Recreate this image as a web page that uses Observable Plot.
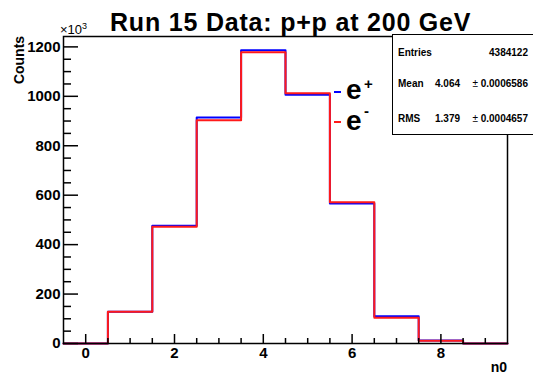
<!DOCTYPE html>
<html><head><meta charset="utf-8">
<script src="https://cdn.jsdelivr.net/npm/d3@7"></script>
<script src="https://cdn.jsdelivr.net/npm/@observablehq/plot@0.6"></script>
<style>
html,body{margin:0;padding:0;background:#fff;}
#wrap{position:relative;width:533px;height:375px;overflow:hidden;font-family:"Liberation Sans",Arial,Helvetica,sans-serif;color:#000;}
#wrap svg{position:absolute;left:0;top:0;}
.abs{position:absolute;white-space:nowrap;line-height:1;}
.b{font-weight:bold;}
</style></head><body><div id="wrap"></div>
<script>
// Histogram bins (n0) and counts (x10^3)
const bins = [0, 1, 2, 3, 4, 5, 6, 7, 8, 9];
const ePlus  = [0, 128, 476, 914, 1186, 1006, 566, 110, 12, 0];
const eMinus = [0, 128, 472, 903, 1178, 1012, 571, 104, 11, 0];
const seriesNames = ["e+", "e-"];
const yMajorTicks = [0, 200, 400, 600, 800, 1000, 1200];
const yMinorTicks = [50,100,150,250,300,350,450,500,550,650,700,750,850,900,950,1050,1100,1150];
const xMajorTicks = [0, 2, 4, 6, 8];
const xMinorTicks = [0.5,1,1.5,2.5,3,3.5,4.5,5,5.5,6.5,7,7.5,8.5,9];
const statsLabels = ["Entries", "Mean", "RMS"];
const statsValues = ["4384122", "4.064", "1.379"];
const statsErrors = ["", "0.0006586", "0.0004657"];

function stepPoints(vals) {
  const pts = bins.map((b, i) => ({x: b - 0.5, y: vals[i]}));
  pts.push({x: bins[bins.length - 1] + 0.5, y: vals[vals.length - 1]});
  return pts;
}

const chart = Plot.plot({
  width: 533, height: 375,
  marginLeft: 63, marginRight: 26, marginTop: 36, marginBottom: 32,
  x: {domain: [-0.5, 9.5]},
  y: {domain: [0, 1242]},
  style: {fontFamily: "'Liberation Sans', Arial, sans-serif", background: "transparent", color: "black"},
  marks: [
    Plot.line(stepPoints(ePlus), {x: "x", y: "y", curve: "step-after", stroke: "#0000ff", strokeWidth: 2}),
    Plot.line(stepPoints(eMinus), {x: "x", y: "y", curve: "step-after", stroke: "#ff1a1a", strokeWidth: 2}),
    Plot.frame({stroke: "black", strokeWidth: 1.5}),
    Plot.axisY(yMajorTicks, {anchor: "left", tickSize: 0, tickPadding: 3, fontSize: 15, fontWeight: "bold", tickFormat: "d", label: null}),
    Plot.axisY(yMajorTicks, {anchor: "left", tickSize: -15, tickFormat: () => "", label: null, strokeWidth: 1.5}),
    Plot.axisY(yMinorTicks, {anchor: "left", tickSize: -8, tickFormat: () => "", label: null, strokeWidth: 1.5}),
    Plot.axisX(xMajorTicks, {anchor: "bottom", tickSize: 0, tickPadding: 4, fontSize: 15, fontWeight: "bold", tickFormat: "d", label: null}),
    Plot.axisX(xMajorTicks, {anchor: "bottom", tickSize: -9, tickFormat: () => "", label: null, strokeWidth: 1.5}),
    Plot.axisX(xMinorTicks, {anchor: "bottom", tickSize: -5, tickFormat: () => "", label: null, strokeWidth: 1.5})
  ]
});
const wrap = document.getElementById("wrap");
wrap.appendChild(chart);

function addDiv(html, css, cls) {
  const d = document.createElement("div");
  d.className = "abs " + (cls || "");
  d.innerHTML = html;
  Object.assign(d.style, css);
  wrap.appendChild(d);
  return d;
}
// Title
addDiv("Run 15 Data: p+p at 200 GeV", {left: "110px", top: "10px", fontSize: "25px", letterSpacing: "0.8px"}, "b");
// x10^3
addDiv("&times;10<span style='font-size:9px;position:relative;top:-5px'>3</span>", {left: "60px", top: "23px", fontSize: "13px"});
// y label
addDiv("Counts", {left: "19px", top: "60px", fontSize: "14px", transform: "translate(-50%,-50%) rotate(-90deg)"}, "b");
// x label
addDiv("n0", {right: "26px", top: "360px", fontSize: "14px"}, "b");
// Stats box
addDiv("", {left: "392px", top: "34px", width: "160px", height: "99px", border: "1.5px solid black", background: "white"});
const tops = [47.5, 78.8, 113.8];
statsLabels.forEach((lab, i) => {
  addDiv(lab, {left: "398px", top: tops[i] + "px", fontSize: "10px"}, "b");
  if (statsErrors[i]) {
    addDiv(statsValues[i], {left: "435px", top: tops[i] + "px", fontSize: "10px"}, "b");
    addDiv("<span style='font-weight:normal'>&plusmn;</span> " + statsErrors[i], {right: "5px", top: tops[i] + "px", fontSize: "10px"}, "b");
  } else {
    addDiv(statsValues[i], {right: "5px", top: tops[i] + "px", fontSize: "10px"}, "b");
  }
});
// Legend
const legColors = ["#0000ff", "#ff1a1a"];
const legY = [91.7, 122];
const legTops = [75.6, 106.8];
const supTops = [75.7, 103];
const sups = ["+", "-"];
seriesNames.forEach((n, i) => {
  addDiv("", {left: "334px", top: (legY[i] - 1) + "px", width: "7px", height: "2px", background: legColors[i]});
  addDiv("e", {left: "346px", top: legTops[i] + "px", fontSize: "28px"}, "b");
  addDiv(sups[i], {left: "364px", top: supTops[i] + "px", fontSize: "15px"}, "b");
});
</script></body></html>
